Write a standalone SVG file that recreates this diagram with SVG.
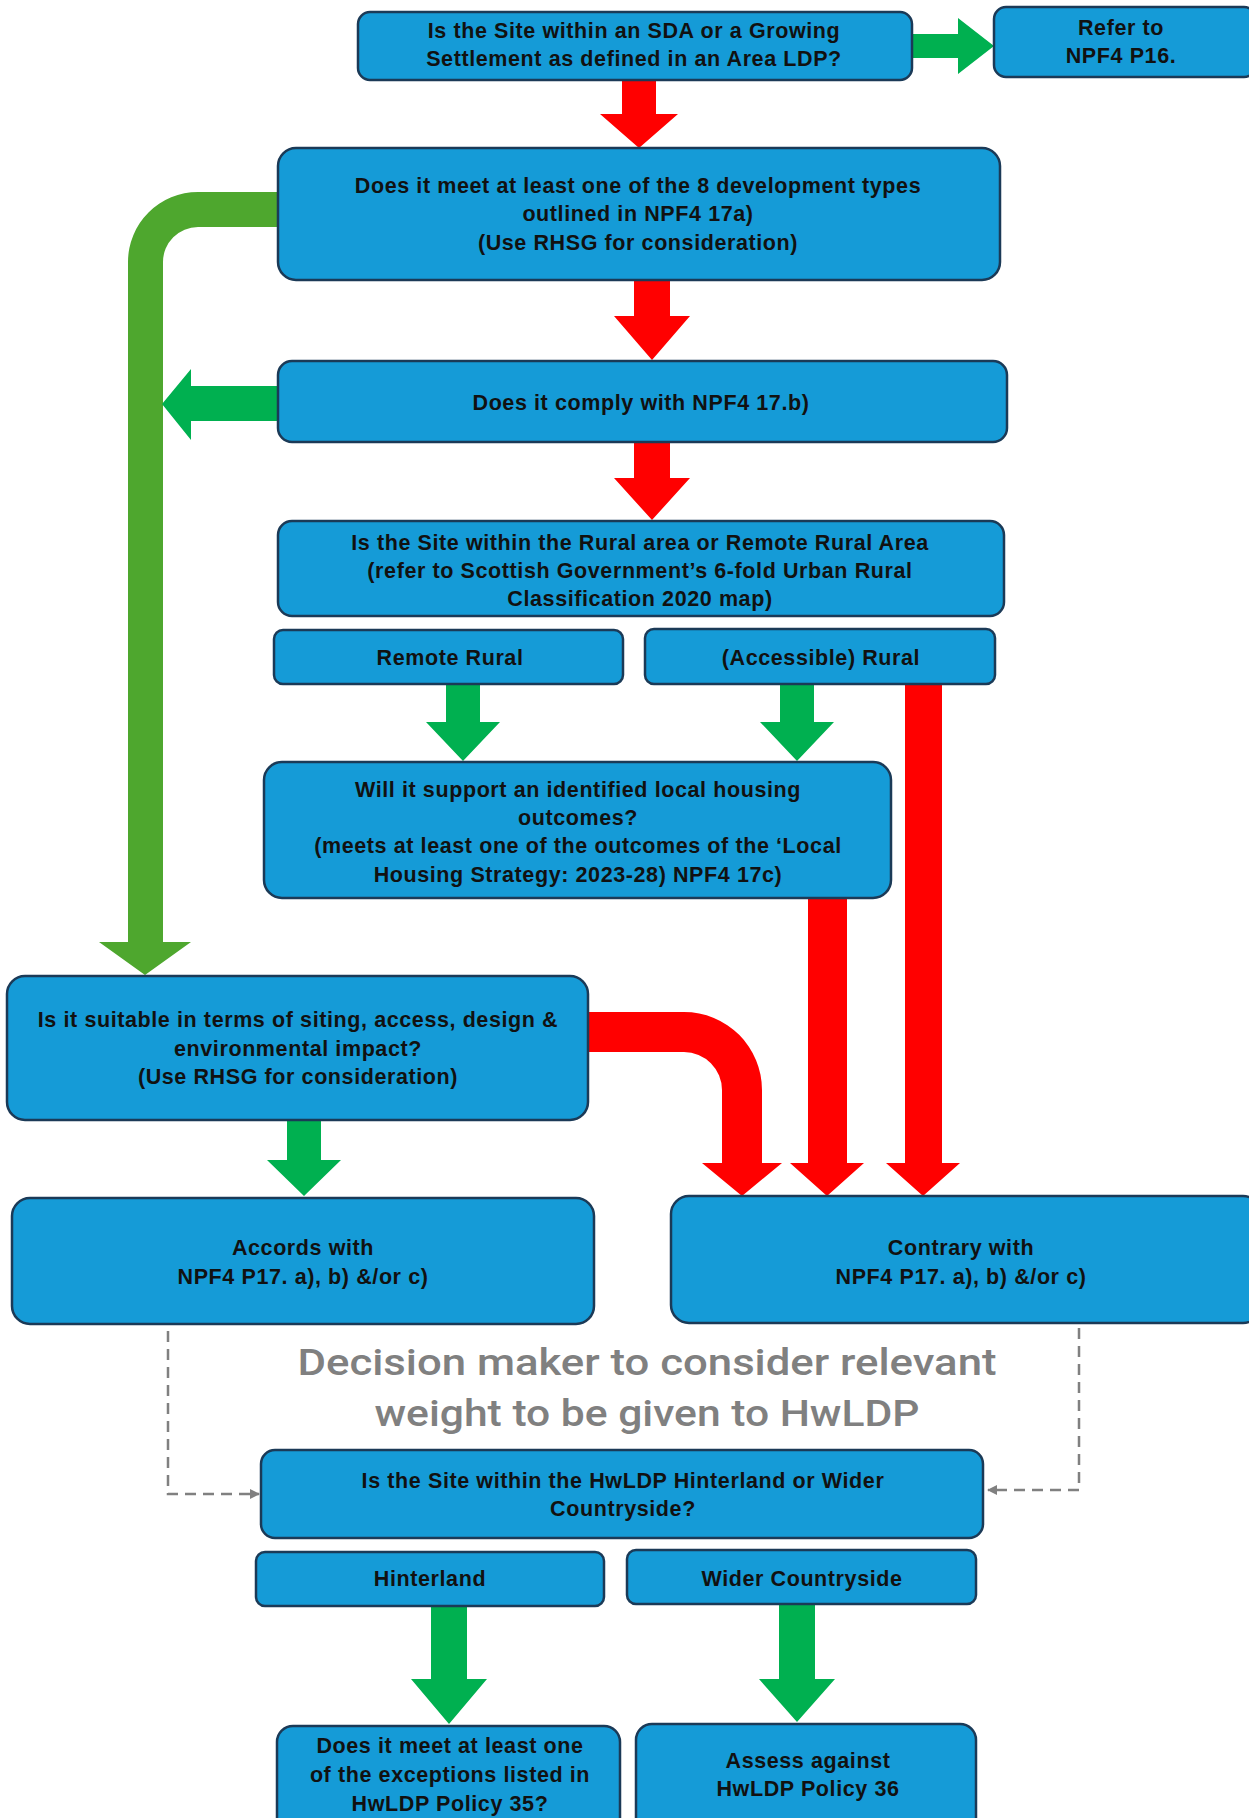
<svg xmlns="http://www.w3.org/2000/svg" width="1249" height="1818" viewBox="0 0 1249 1818">
<style>
.box{fill:#159bd7;stroke:#1b3a57;stroke-width:2.5}
.t{font-family:"Liberation Sans",Arial,sans-serif;font-weight:bold;font-size:21.5px;letter-spacing:0.6px;fill:#111;text-anchor:middle}
.red{fill:#ff0000}
.grn{fill:#00b050}
.grn2{fill:#4ea72e}
.dash{fill:none;stroke:#808080;stroke-width:2.5;stroke-dasharray:11,7}
.big{font-family:Roboto,"Liberation Sans",sans-serif;font-weight:500;font-size:37px;fill:#808080;text-anchor:middle}
</style>
<defs>
<marker id="ah" markerWidth="12" markerHeight="12" refX="9" refY="6" orient="auto" markerUnits="userSpaceOnUse">
<path d="M0,1 L10,6 L0,11 Z" fill="#808080"/>
</marker>
</defs>
<rect width="1249" height="1818" fill="#ffffff"/>
<g id="connectors">
<polygon class="grn" points="912,34 958,34 958,18 994,46 958,74 958,58 912,58"/>
<polygon class="red" points="622,80 656,80 656,114 678,114 639,148 600,114 622,114"/>
<polygon class="red" points="634,280 670,280 670,316 690,316 652,360 614,316 634,316"/>
<polygon class="red" points="634,442 670,442 670,478 690,478 652,520 614,478 634,478"/>
<path class="grn2" d="M280,192 L198,192 A70,70 0 0 0 128,262 L128,942 L99,942 L145,975 L191,942 L163,942 L163,262 A35,35 0 0 1 198,227 L280,227 Z"/>
<polygon class="grn" points="280,386 191,386 191,369 162,404 191,440 191,421 280,421"/>
<polygon class="grn" points="446,684 480,684 480,722 500,722 463,761 426,722 446,722"/>
<polygon class="grn" points="780,684 814,684 814,722 834,722 797,761 760,722 780,722"/>
<polygon class="red" points="905,684 942,684 942,1163 960,1163 923,1196 886,1163 905,1163"/>
<polygon class="red" points="808,898 847,898 847,1163 864,1163 827,1196 790,1163 808,1163"/>
<path class="red" d="M588,1012 L684,1012 A78,78 0 0 1 762,1090 L762,1163 L782,1163 L742,1196 L702,1163 L722,1163 L722,1090 A38,38 0 0 0 684,1052 L588,1052 Z"/>
<polygon class="grn" points="287,1120 321,1120 321,1160 341,1160 304,1196 267,1160 287,1160"/>
<polyline class="dash" points="168,1331 168,1494 259,1494" marker-end="url(#ah)"/>
<polyline class="dash" points="1079,1328 1079,1490 988,1490" marker-end="url(#ah)"/>
<polygon class="grn" points="431,1606 467,1606 467,1679 487,1679 449,1724 411,1679 431,1679"/>
<polygon class="grn" points="779,1604 815,1604 815,1679 835,1679 797,1722 759,1679 779,1679"/>
</g>
<g id="n1"><rect class="box" x="358" y="12" width="554" height="68" rx="12"/>
<text class="t" x="634" y="38">Is the Site within an SDA or a Growing</text>
<text class="t" x="634" y="66">Settlement as defined in an Area LDP?</text></g>
<g id="n2"><rect class="box" x="994" y="7" width="262" height="70" rx="12"/>
<text class="t" x="1121" y="35">Refer to</text>
<text class="t" x="1121" y="63">NPF4 P16.</text></g>
<g id="n3"><rect class="box" x="278" y="148" width="722" height="132" rx="18"/>
<text class="t" x="638" y="193">Does it meet at least one of the 8 development types</text>
<text class="t" x="638" y="221">outlined in NPF4 17a)</text>
<text class="t" x="638" y="250">(Use RHSG for consideration)</text></g>
<g id="n4"><rect class="box" x="278" y="361" width="729" height="81" rx="14"/>
<text class="t" x="641" y="410">Does it comply with NPF4 17.b)</text></g>
<g id="n5"><rect class="box" x="278" y="521" width="726" height="95" rx="14"/>
<text class="t" x="640" y="550">Is the Site within the Rural area or Remote Rural Area</text>
<text class="t" x="640" y="578">(refer to Scottish Government’s 6-fold Urban Rural</text>
<text class="t" x="640" y="606">Classification 2020 map)</text></g>
<g id="n6"><rect class="box" x="274" y="630" width="349" height="54" rx="9"/>
<text class="t" x="450" y="665">Remote Rural</text></g>
<g id="n7"><rect class="box" x="645" y="629" width="350" height="55" rx="9"/>
<text class="t" x="821" y="665">(Accessible) Rural</text></g>
<g id="n8"><rect class="box" x="264" y="762" width="627" height="136" rx="18"/>
<text class="t" x="578" y="797">Will it support an identified local housing</text>
<text class="t" x="578" y="825">outcomes?</text>
<text class="t" x="578" y="853">(meets at least one of the outcomes of the ‘Local</text>
<text class="t" x="578" y="882">Housing Strategy: 2023-28) NPF4 17c)</text></g>
<g id="n9"><rect class="box" x="7" y="976" width="581" height="144" rx="18"/>
<text class="t" x="298" y="1027">Is it suitable in terms of siting, access, design &amp;</text>
<text class="t" x="298" y="1056">environmental impact?</text>
<text class="t" x="298" y="1084">(Use RHSG for consideration)</text></g>
<g id="n10"><rect class="box" x="12" y="1198" width="582" height="126" rx="18"/>
<text class="t" x="303" y="1255">Accords with</text>
<text class="t" x="303" y="1284">NPF4 P17. a), b) &amp;/or c)</text></g>
<g id="n11"><rect class="box" x="671" y="1196" width="590" height="127" rx="18"/>
<text class="t" x="961" y="1255">Contrary with</text>
<text class="t" x="961" y="1284">NPF4 P17. a), b) &amp;/or c)</text></g>
<g id="note">
<text class="big" x="647" y="1375" textLength="699" lengthAdjust="spacingAndGlyphs">Decision maker to consider relevant</text>
<text class="big" x="647" y="1426" textLength="545" lengthAdjust="spacingAndGlyphs">weight to be given to HwLDP</text></g>
<g id="n12"><rect class="box" x="261" y="1450" width="722" height="88" rx="14"/>
<text class="t" x="623" y="1488">Is the Site within the HwLDP Hinterland or Wider</text>
<text class="t" x="623" y="1516">Countryside?</text></g>
<g id="n13"><rect class="box" x="256" y="1552" width="348" height="54" rx="9"/>
<text class="t" x="430" y="1586">Hinterland</text></g>
<g id="n14"><rect class="box" x="627" y="1550" width="349" height="54" rx="9"/>
<text class="t" x="802" y="1586">Wider Countryside</text></g>
<g id="n15"><rect class="box" x="277" y="1726" width="343" height="115" rx="16"/>
<text class="t" x="450" y="1753">Does it meet at least one</text>
<text class="t" x="450" y="1782">of the exceptions listed in</text>
<text class="t" x="450" y="1811">HwLDP Policy 35?</text></g>
<g id="n16"><rect class="box" x="636" y="1724" width="340" height="117" rx="16"/>
<text class="t" x="808" y="1768">Assess against</text>
<text class="t" x="808" y="1796">HwLDP Policy 36</text></g>
</svg>
